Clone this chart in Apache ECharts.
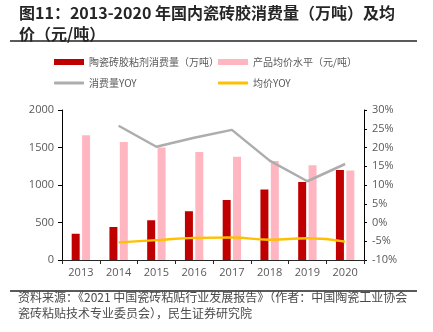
<!DOCTYPE html>
<html>
<head>
<meta charset="utf-8">
<style>
  html, body { margin: 0; padding: 0; background: #fff; }
  #chart { width: 433px; height: 332px; }
</style>
<script src="https://cdn.jsdelivr.net/npm/echarts@6/dist/echarts.min.js"></script>
</head>
<body>
<div id="chart"></div>
<script>
// Years on the category axis
const years = ['2013', '2014', '2015', '2016', '2017', '2018', '2019', '2020'];
// Tile adhesive consumption (10k tonnes)
const consumption = [350, 440, 530, 650, 800, 940, 1040, 1200];
// Average product price (yuan / tonne)
const avgPrice = [1665, 1573, 1500, 1440, 1378, 1320, 1262, 1192];
// Year-on-year growth of consumption (%)
const consumptionYoy = [null, 25.8, 20.2, 22.6, 24.7, 16.5, 11.0, 15.6];
// Year-on-year change of average price (%)
const priceYoy = [null, -5.3, -4.7, -4.1, -4.0, -4.6, -4.2, -5.1];

const seriesNames = ['陶瓷砖胶粘剂消费量（万吨）', '产品均价水平（元/吨）', '消费量YOY', '均价YOY'];
const colors = ['#C00000', '#FFB6C1', '#ADADAD', '#FFC000'];

const FONT = '"Noto Sans CJK SC", "Noto Sans", sans-serif';
const NUM_FONT = '"Open Sans", "Noto Sans CJK SC", sans-serif';
const labelStyle = { color: '#595959', fontSize: 11, fontFamily: NUM_FONT };

const chart = echarts.init(document.getElementById('chart'), null, { renderer: 'canvas' });

function legendAt(idx, left, top, isLine) {
  return {
    data: [seriesNames[idx]],
    left: left, top: top,
    itemWidth: 30,
    itemHeight: isLine ? 3 : 6,
    itemGap: 4,
    icon: isLine ? 'roundRect' : 'rect',
    padding: 0,
    textStyle: { color: '#595959', fontSize: 10, fontFamily: FONT },
    selectedMode: false
  };
}

chart.setOption({
  animation: false,
  textStyle: { fontFamily: FONT },
  title: {
    text: '图11：2013-2020 年国内瓷砖胶消费量（万吨）及均\n价（元/吨）',
    left: 19, top: 2, padding: 0,
    textStyle: { fontSize: 16, fontWeight: 'bold', color: '#262626', lineHeight: 21, fontFamily: FONT }
  },
  graphic: [
    { type: 'rect', shape: { x: 10, y: 40, width: 407, height: 2 }, style: { fill: '#5a5a5a' } },
    { type: 'rect', shape: { x: 10, y: 290, width: 407, height: 2 }, style: { fill: '#5a5a5a' } },
    { type: 'text', left: 18, top: 290,
      style: { text: '资料来源：《2021 中国瓷砖粘贴行业发展报告》（作者：中国陶瓷工业协会\n瓷砖粘贴技术专业委员会），民生证券研究院',
               fill: '#4a4a4a', fontSize: 12, lineHeight: 15.5, fontFamily: FONT } }
  ],
  legend: [
    legendAt(0, 54, 57, false),
    legendAt(1, 218, 57, false),
    legendAt(2, 54, 78, true),
    legendAt(3, 218, 78, true)
  ],
  grid: { left: 62, right: 69, top: 110, bottom: 72 },
  xAxis: {
    type: 'category',
    data: years,
    axisLine: { lineStyle: { color: '#262626', width: 1 } },
    axisTick: { show: true, length: 4, lineStyle: { color: '#262626' } },
    axisLabel: Object.assign({ margin: 7 }, labelStyle)
  },
  yAxis: [
    {
      type: 'value', min: 0, max: 2000, interval: 500,
      axisLine: { show: true, lineStyle: { color: '#000', width: 1 } },
      axisTick: { show: true, length: 4, lineStyle: { color: '#000' } },
      splitLine: { show: false },
      axisLabel: Object.assign({ margin: 8, formatter: function (v) { return String(v); } }, labelStyle)
    },
    {
      type: 'value', min: -10, max: 30, interval: 5,
      axisLine: { show: true, lineStyle: { color: '#000', width: 1 } },
      axisTick: { show: true, length: 3, lineStyle: { color: '#000' } },
      splitLine: { show: false },
      axisLabel: Object.assign({ margin: 8, formatter: '{value}%' }, labelStyle)
    }
  ],
  series: [
    { name: seriesNames[0], type: 'bar', data: consumption, barWidth: 8, barGap: '30%',
      itemStyle: { color: colors[0] } },
    { name: seriesNames[1], type: 'bar', data: avgPrice, barWidth: 8,
      itemStyle: { color: colors[1] } },
    { name: seriesNames[2], type: 'line', yAxisIndex: 1, data: consumptionYoy, showSymbol: false,
      symbol: 'none', lineStyle: { color: colors[2], width: 2.5 }, itemStyle: { color: colors[2] } },
    { name: seriesNames[3], type: 'line', yAxisIndex: 1, data: priceYoy, showSymbol: false, smooth: true,
      symbol: 'none', lineStyle: { color: colors[3], width: 2.5 }, itemStyle: { color: colors[3] } }
  ]
});
</script>
</body>
</html>
